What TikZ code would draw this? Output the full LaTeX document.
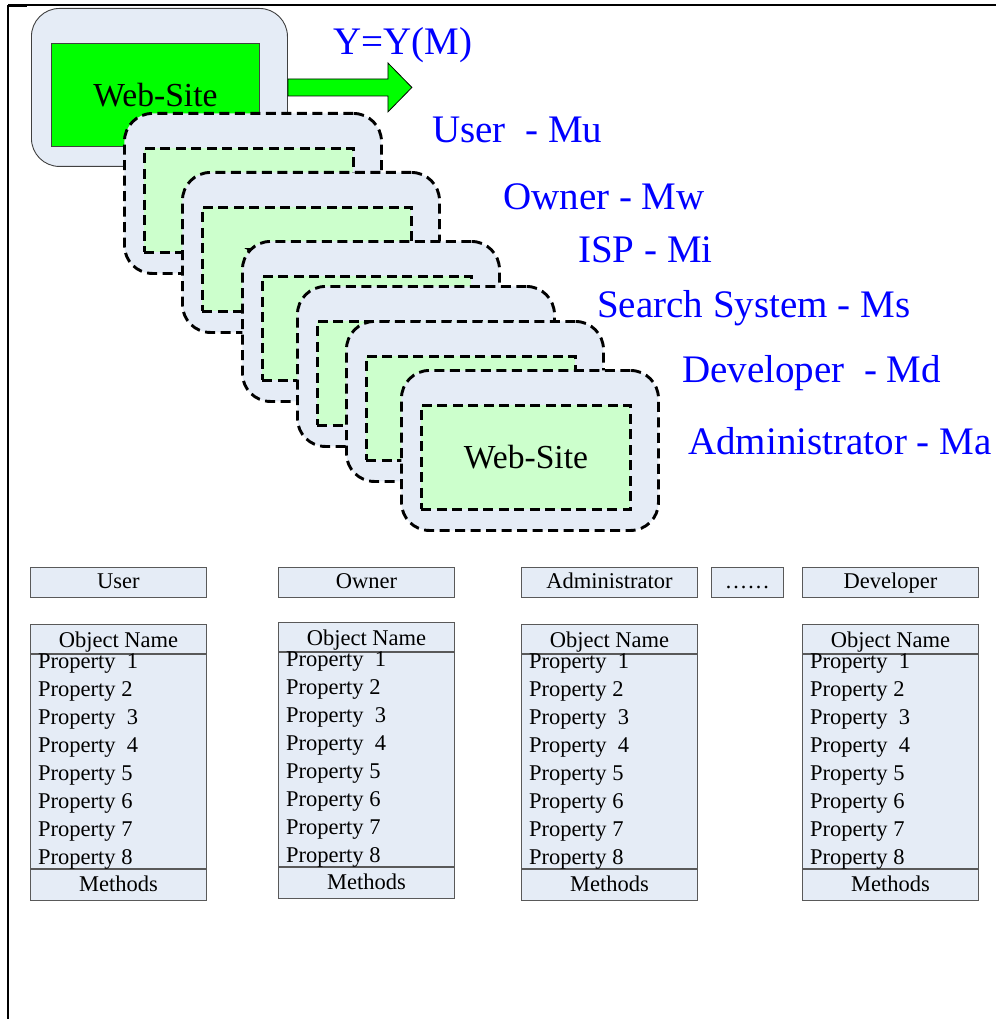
\documentclass[tikz,border=0pt]{standalone}
\usepackage{fontspec}
\setmainfont{Liberation Serif}
\usetikzlibrary{calc}
\usetikzlibrary{positioning}

\begin{document}
\begin{tikzpicture}[x=1pt,y=-1pt,
  sitebox/.style={draw=mycolor404040,line width=0.9pt,fill=mycolorE6ECF6,rounded corners=28pt,minimum width=256pt,minimum height=158pt,inner sep=0,anchor=north west},
  sitescreen/.style={draw=mycolor404040,line width=0.9pt,fill=mycolor00FF00,minimum width=208pt,minimum height=103pt,inner sep=0,anchor=north west,font={\fontsize{33.6pt}{40pt}\selectfont}},
  panel/.style={draw=mycolor000000,line width=2.9pt,dash pattern=on 10pt off 5.5pt,fill=mycolorE6ECF6,rounded corners=28pt,minimum width=257pt,minimum height=160pt,inner sep=0,anchor=north west},
  screen/.style={draw=mycolor000000,line width=2.9pt,dash pattern=on 10pt off 5.5pt,fill=mycolorCCFFCC,minimum width=209pt,minimum height=104pt,inner sep=0,anchor=north west,font={\fontsize{33.6pt}{40pt}\selectfont}},
  yarrow/.style={draw=mycolor000000,line width=0.8pt,fill=mycolor00FF00},
  rolelabel/.style={text=mycolor0000FF,anchor=base west,inner sep=0,font={\fontsize{39pt}{46pt}\selectfont}},
  cell/.style={draw=mycolor595959,line width=0.9pt,fill=mycolorE6ECF6,minimum width=176pt,inner sep=0,text depth=0pt,font={\fontsize{22.5pt}{27pt}\selectfont}},
  rolebox/.style={cell,minimum height=30pt,text height=12pt},
  namecell/.style={cell,minimum height=29pt,text height=17pt},
  bodycell/.style={cell,minimum height=214pt},
  methcell/.style={cell,minimum height=31pt,text height=13pt},
  prop/.style={anchor=base west,inner sep=0,font={\fontsize{22.5pt}{27pt}\selectfont}}]
\definecolor{mycolor000000}{rgb}{0,0,0}
\definecolor{mycolor404040}{rgb}{0.25,0.25,0.25}
\definecolor{mycolor595959}{rgb}{0.35,0.35,0.35}
\definecolor{mycolorE6ECF6}{rgb}{0.9,0.925,0.965}
\definecolor{mycolor00FF00}{rgb}{0,1,0}
\definecolor{mycolorCCFFCC}{rgb}{0.8,1,0.8}
\definecolor{mycolor0000FF}{rgb}{0,0,1}
\useasboundingbox (0,0) rectangle (996,1019);
% frame
\draw[line width=1.3pt] (8,5) -- (996,5);
\draw[line width=2.4pt] (8,5.5) -- (27,5.5);
\draw[line width=1.8pt] (8,5) -- (8,1019);
% the web-site and its function
\node[sitebox] (s0) at (31,8) {};
\node[sitescreen] (g0) at (51,43) {Web-Site};
\draw[yarrow] ($(s0.east)+(0,-8.5)$) -- ++(100,0) -- ++(0,-16) -- ++(24,24.5) -- ++(-24,24.5) -- ++(0,-16) -- ++(-100,0) -- cycle;
\node[rolelabel] (ylabel) at (333,55) {Y=Y(M)};
% labels of the views
\node[rolelabel] (lu) at (432,143) {User\ \ - Mu};
\node[rolelabel] (lw) at (503,209) {Owner - Mw};
\node[rolelabel] (li) at (578,262) {ISP - Mi};
\node[rolelabel] (ls) at (597,317) {Search System - Ms};
\node[rolelabel] (ld) at (682,382) {Developer\ \ - Md};
\node[rolelabel] (la) at (688,454) {Administrator - Ma};
% stack of views
\foreach \px/\py [count=\i] in {123/112,181/171,241/240,296/285,345/320,400/369}{
  \node[panel] (p\i) at (\px,\py) {};
  \node[screen] (w\i) at ($(p\i.north west)+(20,35)$) {Web-Site};
}
% objects
\node[rolebox,minimum width=72pt,anchor=north west] (dots) at (711,567) {……};
\foreach \tx/\ty/\role/\tn in {30/624/User/u,278/622/Owner/o,521/624/Administrator/a,802/624/Developer/d}{
  \node[rolebox,anchor=north west] (\tn-role) at (\tx,567) {\role};
  \node[namecell,anchor=north west] (\tn-name) at (\tx,\ty) {Object Name};
  \node[bodycell,below=0pt of \tn-name] (\tn-body) {};
  \node[methcell,below=0pt of \tn-body] (\tn-meth) {Methods};
  \foreach \prop [count=\k] in {Property\ \ 1,Property 2,Property\ \ 3,Property\ \ 4,Property 5,Property 6,Property 7,Property 8}
    \node[prop] (\tn-p\k) at ($(\tn-body.north west)+(8,{15+27.9*(\k-1)})$) {\prop};
}
\end{tikzpicture}
\end{document}
